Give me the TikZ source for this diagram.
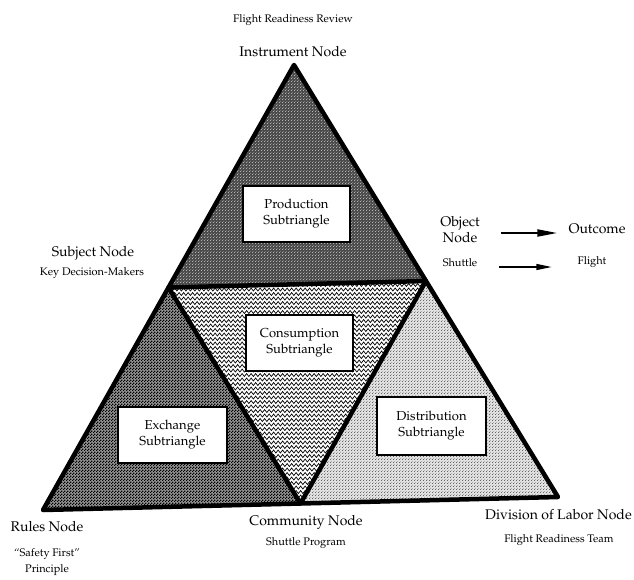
\documentclass[tikz,border=0pt]{standalone}
\usepackage[T1]{fontenc}
\renewcommand{\rmdefault}{ppl}
\usetikzlibrary{arrows.meta,patterns,decorations.pathmorphing,calc}

% fine checkerboard used for the exchange subtriangle
\pgfdeclarepatternformonly{finechk}{\pgfpointorigin}{\pgfpoint{3pt}{3pt}}{\pgfpoint{3pt}{3pt}}{%
  \pgfpathrectangle{\pgfpointorigin}{\pgfpoint{1.5pt}{1.5pt}}%
  \pgfpathrectangle{\pgfpoint{1.5pt}{1.5pt}}{\pgfpoint{1.5pt}{1.5pt}}%
  \pgfusepath{fill}}
% sparse stipple for the production and distribution subtriangles
\pgfdeclarepatternformonly{stipple}{\pgfpointorigin}{\pgfpoint{3pt}{3pt}}{\pgfpoint{3pt}{3pt}}{%
  \pgfpathrectangle{\pgfpointorigin}{\pgfpoint{1pt}{1pt}}%
  \pgfpathrectangle{\pgfpoint{1.5pt}{1.5pt}}{\pgfpoint{0.8pt}{0.8pt}}%
  \pgfusepath{fill}}

\begin{document}
\begin{tikzpicture}[x=1pt,y=-1pt,
  edge/.style={line width=4.5pt, line join=round},
  subbox/.style={draw, line width=2pt, fill=white, minimum width=107pt,
    minimum height=56pt, align=center, inner sep=0pt,
    font=\fontsize{13}{16}\selectfont},
  big/.style={font=\fontsize{14}{16}\selectfont, inner sep=0pt, align=center},
  small/.style={font=\fontsize{11}{16}\selectfont, inner sep=0pt, align=center},
  bigarrow/.style={line width=2pt, -{Triangle[length=20pt,width=7pt]}},
  smallarrow/.style={line width=1.1pt, -{Triangle[length=15pt,width=6pt]}},
]
\useasboundingbox (0,0) rectangle (634,579);

% corners and edge midpoints of the large triangle
\coordinate (A) at (294,65);
\coordinate (L) at (43,510);
\coordinate (R) at (558,497);
\coordinate (ML) at ($(A)!0.5!(L)$);
\coordinate (MR) at ($(A)!0.5!(R)$);
\coordinate (MB) at ($(L)!0.5!(R)$);

% production (top)
\fill[black!70] (A) -- (ML) -- (MR) -- cycle;
\path[pattern=stipple, pattern color=white!70!black] (A) -- (ML) -- (MR) -- cycle;

% exchange (left)
\fill[black!42] (ML) -- (L) -- (MB) -- cycle;
\path[pattern=finechk, pattern color=black] (ML) -- (L) -- (MB) -- cycle;

% distribution (right)
\fill[black!12] (MR) -- (MB) -- (R) -- cycle;
\path[pattern=stipple, pattern color=black!60] (MR) -- (MB) -- (R) -- cycle;

% consumption (centre): rows of zigzags
\fill[white] (ML) -- (MB) -- (MR) -- cycle;
\begin{scope}
  \clip (ML) -- (MB) -- (MR) -- cycle;
  \foreach \y in {276,280.5,...,508}
    \draw[line width=0.7pt, decorate,
      decoration={zigzag, segment length=4.5pt, amplitude=1.5pt}] (160,\y) -- (440,\y);
\end{scope}

% outlines
\draw[edge] (A) -- (L) -- (R) -- cycle;
\draw[edge] (ML) -- (MR) -- (MB) -- cycle;

% subtriangle labels
\node[subbox] (prod) at (296.5,214) {Production\\Subtriangle};
\node[subbox] (cons) at (299.5,342.5) {Consumption\\Subtriangle};
\node[subbox, minimum width=109pt] (exch) at (172.5,434.5) {Exchange\\Subtriangle};
\node[subbox, minimum width=109pt, minimum height=58pt] (dist) at (431.5,426) {Distribution\\Subtriangle};

% node names
\node[small] (frr) at (293,20) {Flight Readiness Review};
\node[big] (instr) at (293,52) {Instrument Node};
\node[big] (subj) at (93,253) {Subject Node};
\node[small] (kdm) at (92,273) {Key Decision-Makers};
\node[big] (obj) at (460,230) {Object\\Node};
\node[small] (shut) at (460,263) {Shuttle};
\node[big] (outc) at (597,229) {Outcome};
\node[small] (flt) at (592,262) {Flight};
\node[big] (rules) at (47,527) {Rules Node};
\node[small] (safe) at (47,562) {``Safety First''\\Principle};
\node[big] (comm) at (306,522) {Community Node};
\node[small] (prog) at (306,543) {Shuttle Program};
\node[big, anchor=west] (dol) at (485,515) {Division of Labor Node};
\node[small] (frt) at (559,540) {Flight Readiness Team};

% object -> outcome, shuttle -> flight
\draw[bigarrow, shorten <=21pt, shorten >=11pt] ($(obj.east)+(0,3)$) -- ($(outc.west)+(0,4)$);
\draw[smallarrow, shorten <=22pt, shorten >=26pt] ($(shut.east)+(0,4)$) -- ($(flt.west)+(0,5)$);
\end{tikzpicture}
\end{document}
